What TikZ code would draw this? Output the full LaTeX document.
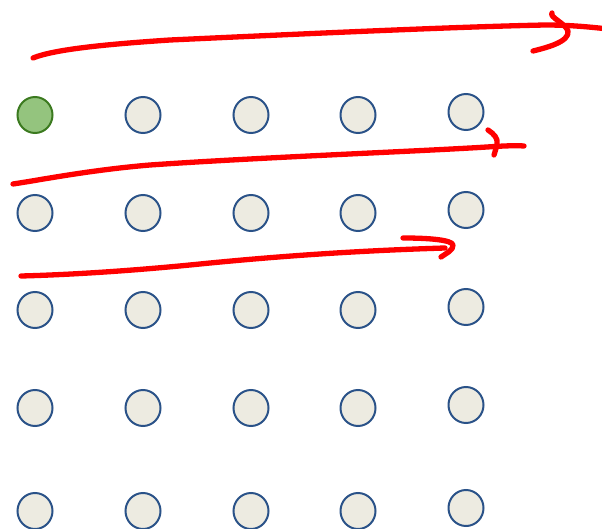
\documentclass[tikz,border=0pt]{standalone}
\usetikzlibrary{shapes.geometric}
\definecolor{dotfill}{HTML}{EDEBE1}
\definecolor{dotline}{HTML}{2A5288}
\definecolor{startfill}{HTML}{94C47E}
\definecolor{startline}{HTML}{3B7A1F}
\definecolor{penred}{HTML}{FF0000}
\tikzset{
  dot/.style={ellipse, draw=dotline, fill=dotfill, line width=2pt, minimum width=35pt, minimum height=36pt, inner sep=0pt},
  startdot/.style={dot, draw=startline, fill=startfill},
  pen/.style={draw=penred, line width=5.3pt, line cap=round, line join=round}
}
\begin{document}
\begin{tikzpicture}[x=1pt,y=-1pt]
\useasboundingbox (0,0) rectangle (602,529);
% grid of circles
\node[startdot] (n11) at (35,115) {};
\foreach \r/\y/\yy in {1/115/112, 2/213/210, 3/310/307, 4/408/405, 5/511/508}{
  \foreach \c/\x in {1/35, 2/143, 3/251, 4/358}{
    \ifnum\r\c=11\relax\else
      \node[dot] (n\r\c) at (\x,\y) {};
    \fi
  }
  \node[dot] (n\r5) at (466,\yy) {};
}
% red hand-drawn arrows
\path[pen] (33,58) .. controls (55,49) and (110,44) .. (170,40)
  .. controls (300,34) and (450,27) .. (545,25)
  .. controls (570,25) and (590,27) .. (608,29);
\path[pen] (552,13) .. controls (549,17) and (565,23) .. (568,31)
  .. controls (570,42) and (545,48) .. (533,51);
\path[pen] (13,184) .. controls (40,180) and (90,170) .. (150,165)
  .. controls (250,158) and (400,152) .. (470,148)
  .. controls (490,147) and (510,145) .. (524,146);
\path[pen] (488,130) .. controls (494,134) and (498,138) .. (497,144)
  .. controls (496,149) and (495,152) .. (494,155);
\path[pen] (21,276) .. controls (60,275) and (120,272) .. (200,264)
  .. controls (300,254) and (380,250) .. (445,248);
\path[pen] (403,238) .. controls (430,238) and (452,240) .. (453,245)
  .. controls (454,250) and (445,254) .. (441,257);
\end{tikzpicture}
\end{document}
